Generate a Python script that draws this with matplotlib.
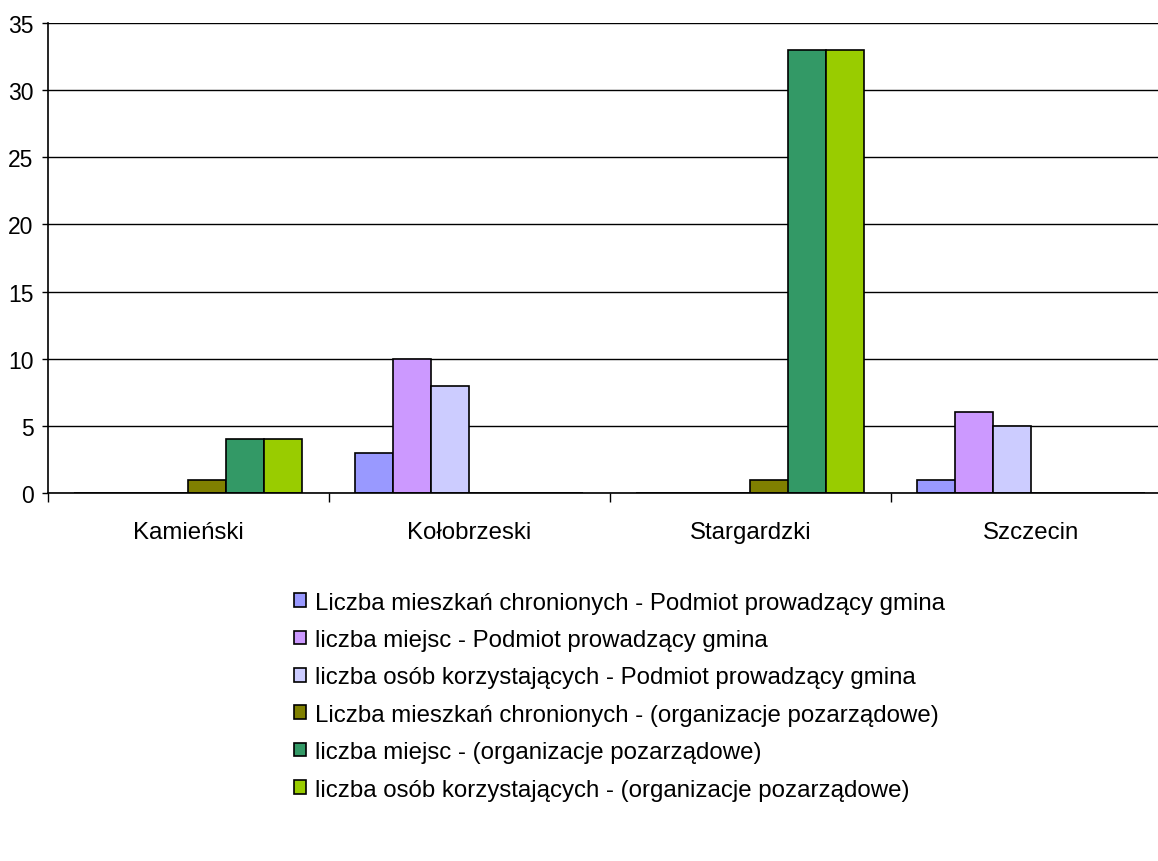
import numpy as np
import matplotlib
matplotlib.use('Agg')
import matplotlib.pyplot as plt

plt.rcParams['font.family'] = ['Liberation Sans', 'DejaVu Sans']

categories = ['Kamieński', 'Kołobrzeski', 'Stargardzki', 'Szczecin']
series_names = [
    'Liczba mieszkań chronionych - Podmiot prowadzący gmina',
    'liczba miejsc - Podmiot prowadzący gmina',
    'liczba osób korzystających - Podmiot prowadzący gmina',
    'Liczba mieszkań chronionych - (organizacje pozarządowe)',
    'liczba miejsc - (organizacje pozarządowe)',
    'liczba osób korzystających - (organizacje pozarządowe)',
]
mieszkania_gmina = [0, 3, 0, 1]
miejsca_gmina = [0, 10, 0, 6]
osoby_gmina = [0, 8, 0, 5]
mieszkania_ngo = [1, 0, 1, 0]
miejsca_ngo = [4, 0, 33, 0]
osoby_ngo = [4, 0, 33, 0]
series = [mieszkania_gmina, miejsca_gmina, osoby_gmina,
          mieszkania_ngo, miejsca_ngo, osoby_ngo]
colors = ['#9999FF', '#CC99FF', '#CCCCFF', '#808000', '#339966', '#99CC00']

fs = 17.3

fig = plt.figure(figsize=(11.58, 8.62), dpi=100)
# plot area runs past the right edge of the image, as in the original
ax = fig.add_axes([48 / 1158, 1 - 494 / 862, 1124 / 1158, 470 / 862])

x = np.arange(len(categories))
w = 38 / 281
for i, (vals, c, name) in enumerate(zip(series, colors, series_names)):
    ax.bar(x - 3 * w + (i + 0.5) * w, vals, w, color=c, edgecolor='black',
           linewidth=1.2, label=name, zorder=3)

ax.set_xlim(-0.5, len(categories) - 0.5)
ax.set_ylim(0, 35)
ax.set_yticks(range(0, 36, 5))
ax.yaxis.grid(True, color='black', linewidth=1)
ax.set_axisbelow(True)
ax.set_xticks(x)
ax.set_xticklabels(categories, fontsize=fs)
ax.tick_params(axis='x', length=0, pad=20)
ax.set_xticks(np.arange(len(categories) + 1) - 0.5, minor=True)
ax.tick_params(axis='x', which='minor', length=6.5, width=1, direction='out')
ax.tick_params(axis='y', labelsize=16.5, length=4.5, width=1, direction='out', pad=6)
for s in ['top', 'right']:
    ax.spines[s].set_visible(False)
ax.spines['left'].set_linewidth(1.2)
ax.spines['bottom'].set_linewidth(1.2)
ax.spines['bottom'].set_zorder(4)

handles, labels = ax.get_legend_handles_labels()
fig.legend(handles, labels, loc='upper left', bbox_to_anchor=(272 / 1158, 1 - 571 / 862),
           frameon=False, fontsize=fs, ncol=1, handlelength=0.5, handleheight=0.5,
           handletextpad=0.4, labelspacing=0.64)

fig.savefig('out.png', dpi=100)
